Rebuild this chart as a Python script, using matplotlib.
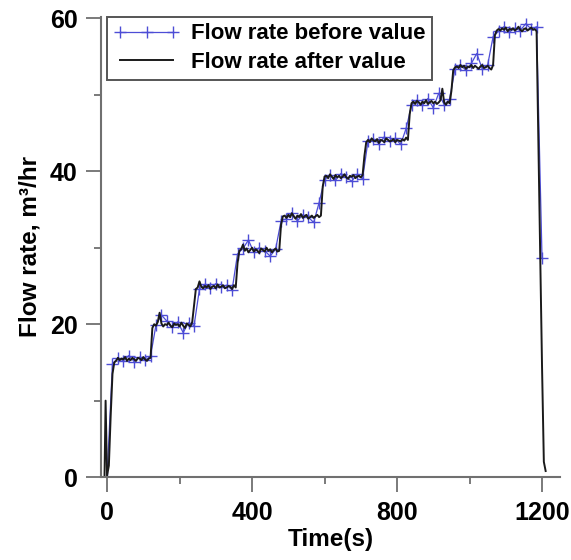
import numpy as np
import matplotlib
matplotlib.use("Agg")
import matplotlib.pyplot as plt
from matplotlib.ticker import MultipleLocator

plt.rcParams['font.family'] = ['Liberation Sans', 'DejaVu Sans']
plt.rcParams['font.weight'] = 'bold'

# Flow rate measured before the valve (sampled every 15 s)
time_before = np.arange(0, 1201, 15)
flow_before = [
    0.0, 14.8, 15.6, 15.2, 15.9, 15.1, 15.7, 15.3, 15.8,
    19.9, 21.2, 20.4, 19.6, 20.3, 18.9, 20.2, 19.8,
    24.6, 25.2, 24.7, 25.3, 24.8, 25.1, 24.5, 29.2,
    29.9, 31.0, 29.4, 30.0, 29.6, 28.9, 29.8, 33.5,
    33.8, 34.6, 33.5, 34.3, 34.0, 33.3, 35.9, 38.9,
    39.5, 38.8, 39.7, 39.2, 38.7, 39.6, 39.0, 44.0,
    44.2, 43.6, 44.5, 43.9, 44.3, 43.5, 45.6, 48.6,
    49.3, 48.6, 49.5, 48.3, 50.2, 48.7, 49.4, 53.4,
    53.9, 53.2, 54.1, 55.4, 53.4, 53.9, 57.6, 58.3,
    58.9, 58.2, 58.7, 58.4, 59.3, 58.6, 58.9, 28.6,
]

# Flow rate measured after the valve: a short start-up surge, then every 5 s
time_after = np.concatenate(([-7, -4], np.arange(0, 1211, 5)))
flow_after = [
    0.0, 10.0,
    0.2, 1.5, 8.0, 13.5, 15.0,
    15.2, 15.6, 15.3, 15.5, 15.4, 15.7, 15.2, 15.5, 15.3, 15.6,
    15.4, 15.2, 15.6, 15.5, 15.3, 15.7, 15.4, 15.2, 15.5, 15.6,
    19.5,
    20.0, 19.8, 20.3, 21.5, 20.1, 19.7, 20.0, 19.9, 20.2, 19.8, 19.6,
    20.1, 19.9, 20.0, 19.7, 20.2, 19.8, 19.5, 20.1, 19.9, 19.7, 20.3,
    22.5,
    24.6, 24.8, 25.6, 24.9, 24.7, 25.0, 24.8, 25.1, 24.6, 24.9, 25.0, 24.7,
    25.2, 24.8, 24.9, 25.1, 24.7, 24.8, 25.0, 24.9, 24.6, 25.1, 24.8,
    28.0,
    29.6, 29.8, 30.4, 29.6, 29.9, 29.4, 29.7, 30.0, 29.5, 29.8, 29.6, 29.3,
    29.9, 29.7, 29.5, 30.0, 29.6, 29.8, 29.4, 29.7, 29.9, 29.5, 29.6,
    33.0,
    34.1, 34.2, 33.9, 34.3, 34.0, 34.5, 34.1, 33.8, 34.2, 34.0, 34.4,
    33.9, 34.1, 34.3, 33.8, 34.0, 34.2, 33.9, 34.1, 34.3, 34.0, 34.2,
    38.0,
    39.3, 39.4, 39.1, 39.6, 39.3, 39.0, 39.5, 39.2, 39.4, 39.1, 39.3,
    39.6, 39.2, 39.0, 39.4, 39.3, 39.5, 39.1, 39.3, 39.4, 39.2, 39.5,
    42.0,
    43.8, 44.1, 43.8, 44.3, 44.0, 43.9, 44.2, 43.7, 44.1, 44.0, 43.8, 44.3,
    44.1, 43.9, 44.0, 44.2, 43.8, 44.1, 44.0, 43.9, 44.2, 44.0, 44.4, 44.1,
    47.5,
    48.9, 49.1, 48.8, 49.2, 49.0, 48.7, 49.1, 48.9, 49.3, 48.8, 49.0, 49.2,
    48.9, 49.1, 48.8, 49.0, 49.3, 50.8, 49.0, 48.7, 49.1, 48.9, 50.5,
    53.2,
    53.6, 53.7, 53.5, 53.9, 53.6, 53.8, 53.4, 53.7, 53.6, 53.9, 53.5,
    53.8, 53.6, 53.4, 53.7, 53.9, 53.5, 53.6, 53.8, 53.5, 53.3, 53.9,
    57.8,
    58.4, 58.6, 58.4, 58.7, 58.5, 58.8, 58.3, 58.6, 58.5, 58.7, 58.4, 58.6,
    58.9, 58.5, 58.3, 58.6, 58.7, 58.4, 58.6, 58.8, 58.5, 58.6, 58.3,
    44.0, 29.0, 14.5, 2.0, 0.8,
]

x_major = [0, 400, 800, 1200]
y_major = [0, 20, 40, 60]

fig = plt.figure(figsize=(5.71, 5.60), dpi=100)
ax = fig.add_axes([0.177, 0.148, 0.804, 0.822])

ax.plot(time_before, flow_before, color='#4d4dd6', lw=0.9, marker='+',
        markersize=8.5, markeredgewidth=1.0, label='Flow rate before value')
ax.plot(time_after, flow_after, color='#1a1a1a', lw=1.4,
        label='Flow rate after value')

ax.set_xlim(-16.5, 1250)
ax.set_ylim(0, 60.2)
ax.set_xticks(x_major)
ax.set_yticks(y_major)
ax.xaxis.set_minor_locator(MultipleLocator(200))
ax.yaxis.set_minor_locator(MultipleLocator(10))

for side in ('top', 'right'):
    ax.spines[side].set_visible(False)
for side in ('left', 'bottom'):
    ax.spines[side].set_color('#707070')
    ax.spines[side].set_linewidth(1.5)

ax.tick_params(which='major', direction='out', length=11, width=1.3,
               color='#707070', labelsize=18, pad=6)
ax.tick_params(which='minor', direction='out', length=5, width=1.3,
               color='#707070')
for lab in ax.get_xticklabels() + ax.get_yticklabels():
    lab.set_fontweight('bold')

ax.set_xlabel('Time(s)', fontsize=17.5, fontweight='bold', labelpad=2)
ax.set_ylabel('Flow rate, m³/hr', fontsize=17.5, fontweight='bold', labelpad=6)

leg = ax.legend(loc='upper left', bbox_to_anchor=(0.012, 1.0), fontsize=16,
                frameon=True, fancybox=False, framealpha=1, numpoints=3,
                handlelength=3.0, handletextpad=0.5, borderpad=0.3,
                labelspacing=0.35, borderaxespad=0)
leg.get_frame().set_edgecolor('#555555')
leg.get_frame().set_linewidth(1.4)
for t in leg.get_texts():
    t.set_fontweight('bold')

fig.savefig('out.png', dpi=100)
